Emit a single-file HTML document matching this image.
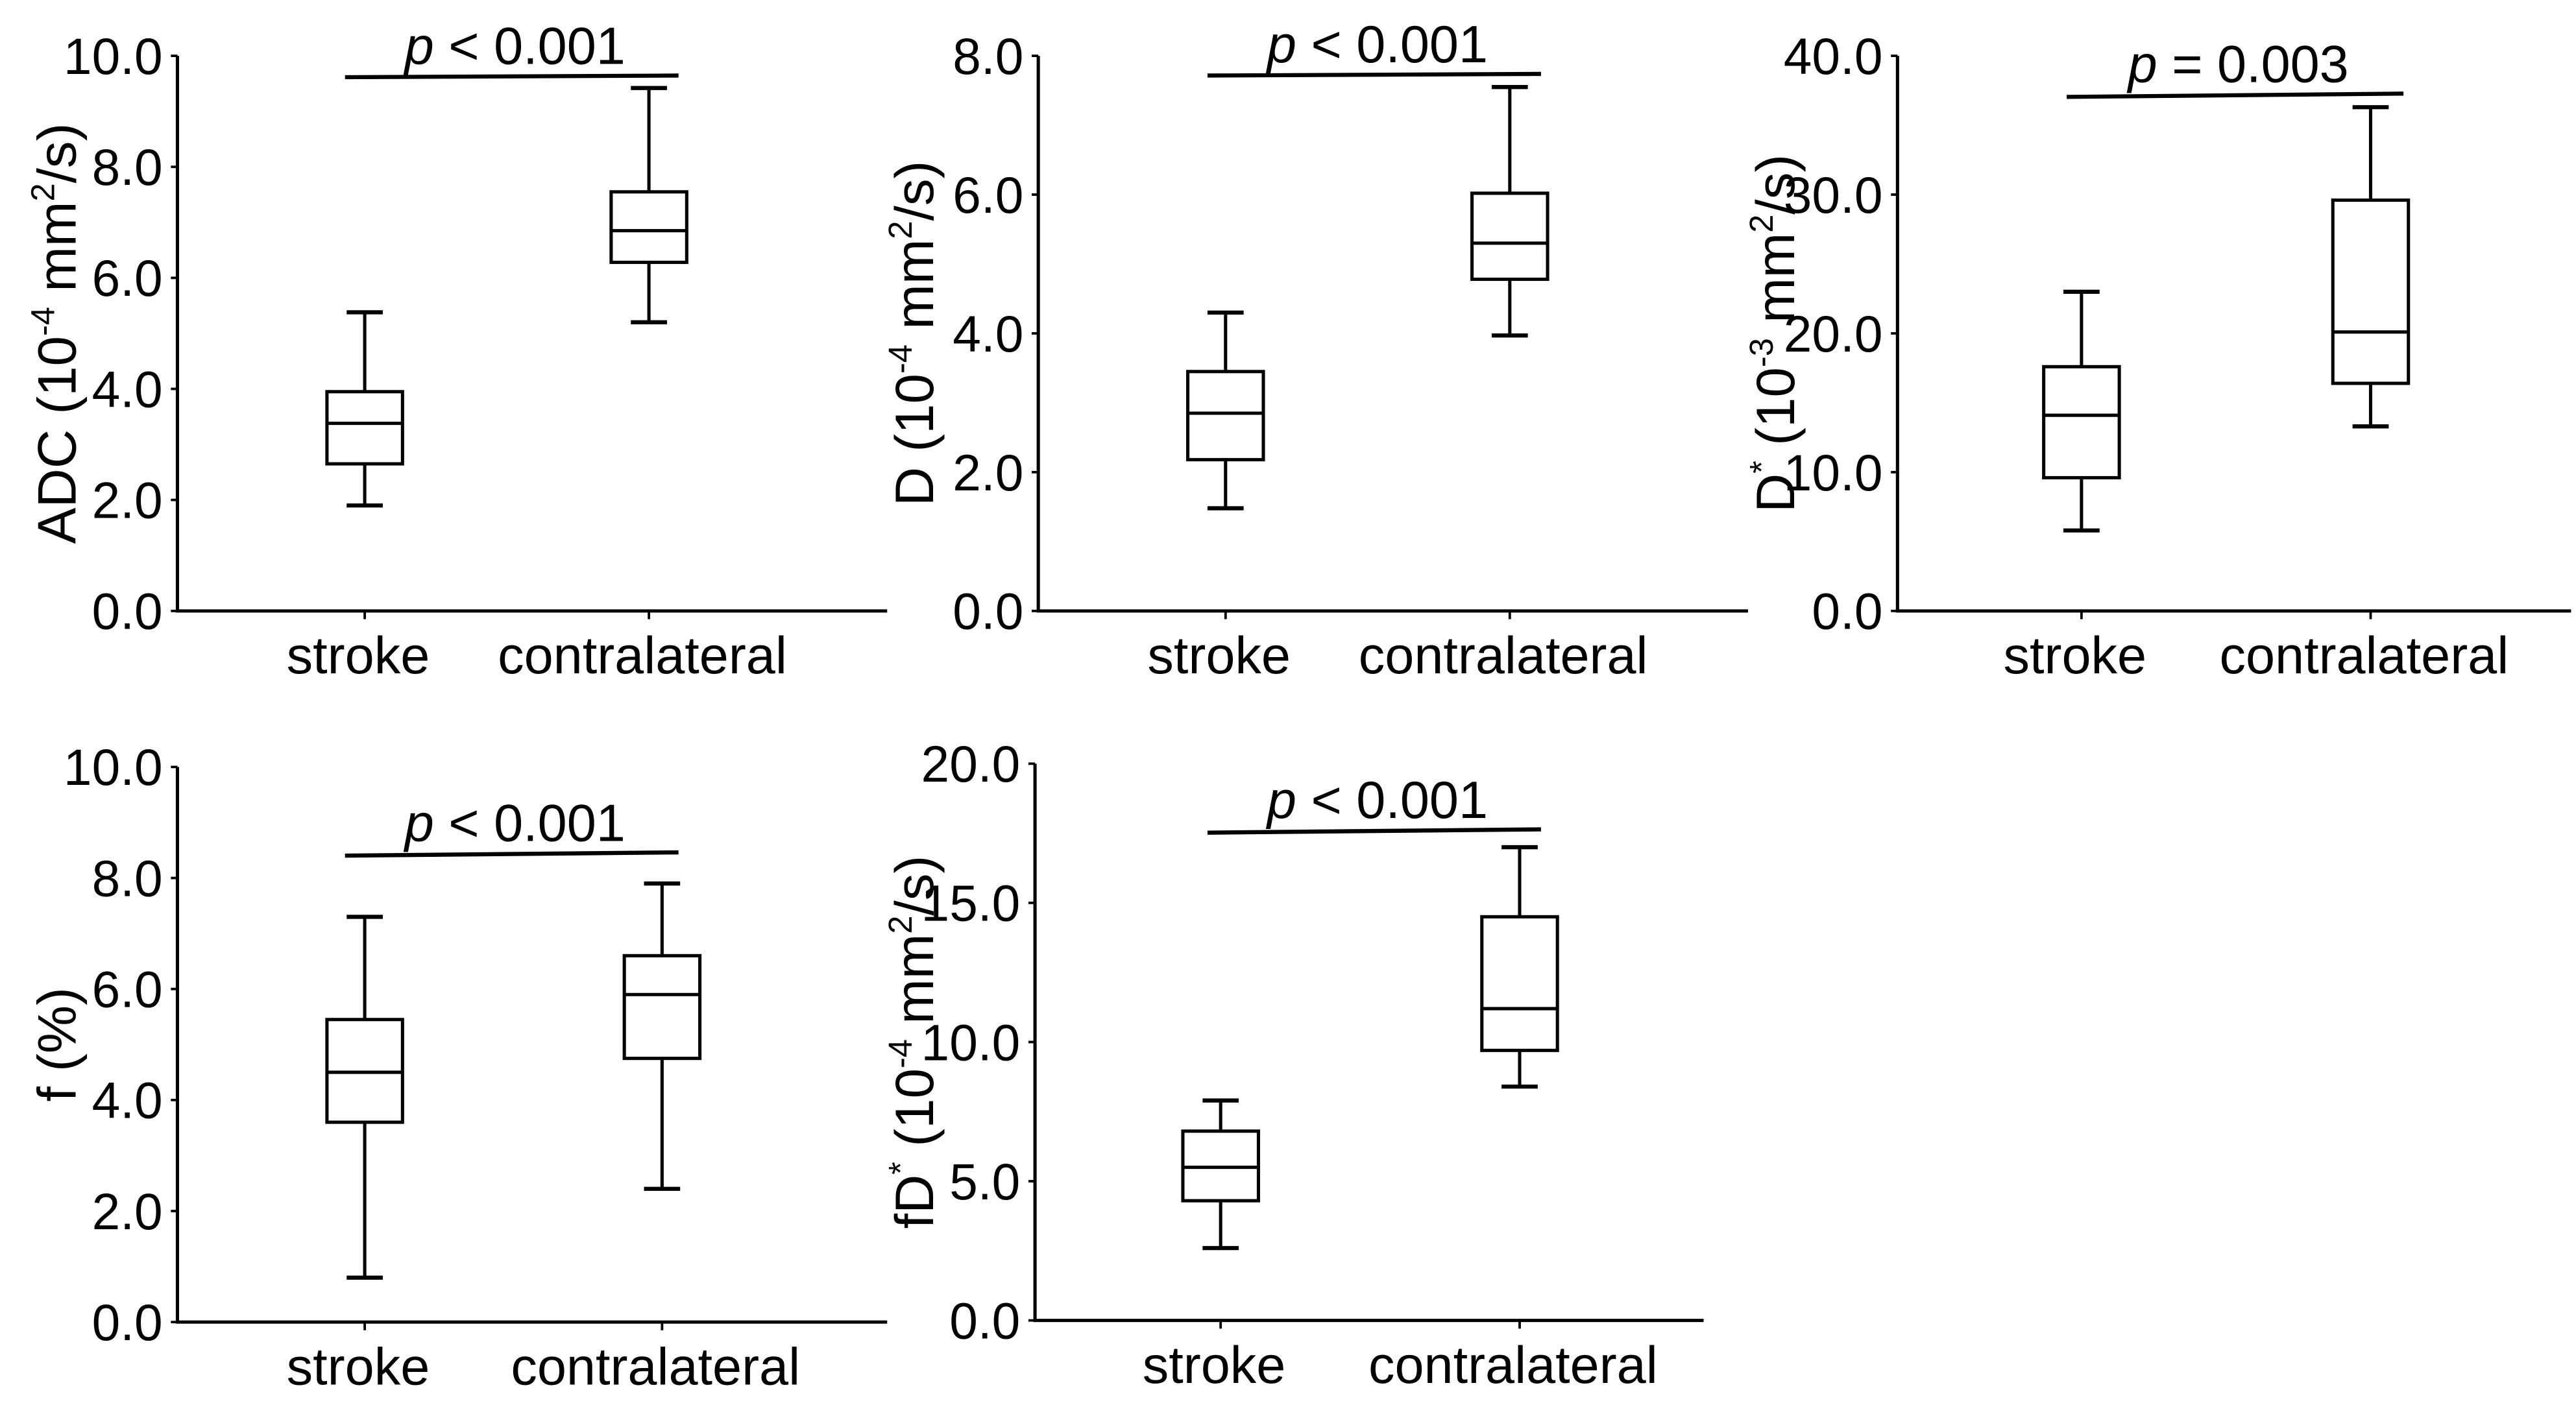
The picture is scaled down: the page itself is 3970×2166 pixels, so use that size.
<!DOCTYPE html>
<html><head><meta charset="utf-8"><style>
html,body{margin:0;padding:0;background:#fff;}
svg{display:block;}
text{font-family:"Liberation Sans",sans-serif;fill:#000;}
</style></head><body>
<svg id="fig" width="3970" height="2166" viewBox="0 0 1568 855.5" xmlns="http://www.w3.org/2000/svg"></svg>
<script>
const categories = ["stroke", "contralateral"];
// [min, q1, median, q3, max]
const adcStroke = [1.9, 2.65, 3.38, 3.95, 5.38];
const adcContra = [5.2, 6.28, 6.85, 7.55, 9.42];
const dStroke = [1.48, 2.18, 2.85, 3.45, 4.3];
const dContra = [3.97, 4.78, 5.3, 6.02, 7.55];
const dsStroke = [5.8, 9.6, 14.1, 17.6, 23.0];
const dsContra = [13.3, 16.4, 20.1, 29.6, 36.3];
const fStroke = [0.8, 3.6, 4.5, 5.45, 7.3];
const fContra = [2.4, 4.75, 5.9, 6.6, 7.9];
const fdStroke = [2.6, 4.3, 5.5, 6.8, 7.9];
const fdContra = [8.4, 9.7, 11.2, 14.5, 17.0];
const adcTicks = ["0.0","2.0","4.0","6.0","8.0","10.0"];
const dTicks = ["0.0","2.0","4.0","6.0","8.0"];
const dsTicks = ["0.0","10.0","20.0","30.0","40.0"];
const fTicks = ["0.0","2.0","4.0","6.0","8.0","10.0"];
const fdTicks = ["0.0","5.0","10.0","15.0","20.0"];
const pLabels = ["< 0.001","< 0.001","= 0.003","< 0.001","< 0.001"];

const svg = document.getElementById('fig');
const NS = 'http://www.w3.org/2000/svg';
function mk(tag, attrs, parent){const e=document.createElementNS(NS,tag);for(const k in attrs)e.setAttribute(k,attrs[k]);(parent||svg).appendChild(e);return e;}

const panels = [
 {name:'adc', ax:108, x1:540, top:34, bot:372, max:10, ticks:adcTicks, cx:[222,395], data:[adcStroke,adcContra], title:[['ADC (10',''],['-4','sup'],[' mm',''],['2','sup'],['/s)','']], tx:34, pl:[210,413,47,46], p:pLabels[0]},
 {name:'d', ax:632, x1:1064, top:34, bot:372, max:8, ticks:dTicks, cx:[746,919], data:[dStroke,dContra], title:[['D (10',''],['-4','sup'],[' mm',''],['2','sup'],['/s)','']], tx:556, pl:[735,938,46,45], p:pLabels[1]},
 {name:'dstar', ax:1155, x1:1565, top:34, bot:372, max:40, ticks:dsTicks, cx:[1267,1443], data:[dsStroke,dsContra], title:[['D',''],['*','sup'],[' (10',''],['-3','sup'],[' mm',''],['2','sup'],['/s)','']], tx:1080, pl:[1258,1463,59,57], p:pLabels[2]},
 {name:'f', ax:108, x1:540, top:467, bot:805, max:10, ticks:fTicks, cx:[222,403], data:[fStroke,fContra], title:[['f (%)','']], tx:34, pl:[210,413,521,519], p:pLabels[3]},
 {name:'fdstar', ax:630, x1:1037, top:465, bot:804, max:20, ticks:fdTicks, cx:[743,925], data:[fdStroke,fdContra], title:[['fD',''],['*','sup'],[' (10',''],['-4','sup'],[' mm',''],['2','sup'],['/s)','']], tx:556, pl:[735,938,507,505], p:pLabels[4]}
];

panels.forEach(P=>{
  const g = mk('g',{});
  
  
  const y = v => P.bot - (v/P.max)*(P.bot-P.top);
  const ax = mk('path',{d:`M${P.ax},${P.top} V${P.bot} H${P.x1}`,fill:'none',stroke:'#000','stroke-width':2},g);
  
  
  P.ticks.forEach(t=>{
    const v = parseFloat(t);
    mk('line',{x1:P.ax-4,x2:P.ax,y1:y(v),y2:y(v),stroke:'#000','stroke-width':1.5},g);
    const tl = mk('text',{x:P.ax-9,y:y(v)+11,'text-anchor':'end','font-size':31},g);
    tl.textContent = t;
    
    
  });
  categories.forEach((c,i)=>{
    const cx = P.cx[i], d = P.data[i];
    mk('line',{x1:cx,x2:cx,y1:P.bot,y2:P.bot+5,stroke:'#000','stroke-width':1.5},g);
    const xl = mk('text',{x:cx-4,y:P.bot+38,'text-anchor':'middle','font-size':32},g);
    xl.textContent = c;
    
    
    const bg = mk('g',{stroke:'#000','stroke-width':2,fill:'none'},g);
    
    
    mk('line',{x1:cx,x2:cx,y1:y(d[0]),y2:y(d[1])},bg);
    mk('line',{x1:cx,x2:cx,y1:y(d[3]),y2:y(d[4])},bg);
    mk('line',{x1:cx-11,x2:cx+11,y1:y(d[0]),y2:y(d[0]),'stroke-width':2.5},bg);
    mk('line',{x1:cx-11,x2:cx+11,y1:y(d[4]),y2:y(d[4]),'stroke-width':2.5},bg);
    mk('rect',{x:cx-23,y:y(d[3]),width:46,height:y(d[1])-y(d[3]),fill:'#fff'},bg);
    mk('line',{x1:cx-23,x2:cx+23,y1:y(d[2]),y2:y(d[2])},bg);
  });
  const pl = mk('line',{x1:P.pl[0],x2:P.pl[1],y1:P.pl[2],y2:P.pl[3],stroke:'#000','stroke-width':2.5},g);
  
  
  const pt = mk('text',{x:(P.pl[0]+P.pl[1])/2+2,y:P.pl[3]-7,'text-anchor':'middle','font-size':32},g);
  
  
  const pi = mk('tspan',{'font-style':'italic'},pt); pi.textContent='p';
  const pr = mk('tspan',{},pt); pr.textContent=' '+P.p;
  const cy = (P.top+P.bot)/2;
  const tt = mk('text',{x:0,y:0,'text-anchor':'middle','font-size':33,transform:`translate(${P.tx+12},${cy}) rotate(-90)`},g);
  
  
  P.title.forEach(([s,k])=>{
    const ts = mk('tspan',k==='sup'?{'font-size':20,dy:-13}:{dy:0},tt);
    ts.textContent = s;
    if(k==='sup'){ const back = mk('tspan',{'font-size':33,dy:13},tt); back.textContent='\u200b'; }
  });
});
</script>
</body></html>
